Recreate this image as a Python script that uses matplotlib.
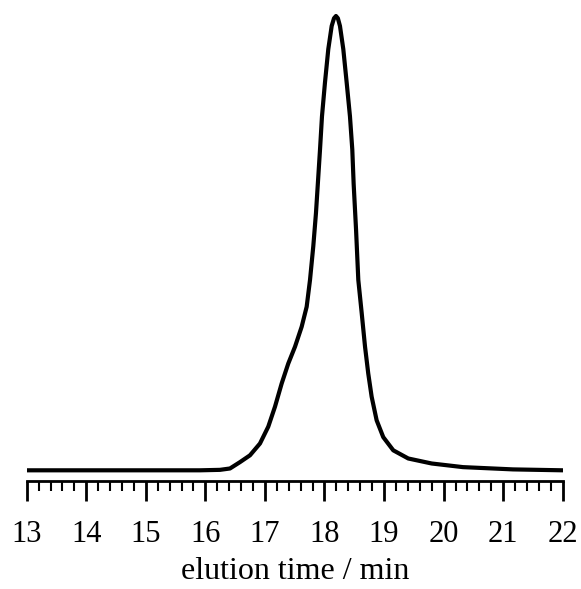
import matplotlib
matplotlib.use("Agg")
import matplotlib.pyplot as plt
from matplotlib.ticker import MultipleLocator

plt.rcParams['font.family'] = ['Liberation Serif', 'DejaVu Serif']

# elution time (min) and normalized detector signal
time_min = [13.0, 14.5, 15.5, 15.91, 16.245, 16.413, 16.581, 16.749, 16.917,
            17.056, 17.169, 17.281, 17.392, 17.505, 17.617, 17.701, 17.757,
            17.812, 17.857, 17.893, 17.925, 17.958, 18.008, 18.064, 18.121,
            18.160, 18.193, 18.225, 18.260, 18.316, 18.373, 18.428, 18.467,
            18.490, 18.530, 18.568, 18.625, 18.681, 18.735, 18.792, 18.876,
            18.987, 19.155, 19.407, 19.800, 20.325, 21.165, 22.0]
signal = [0.0, 0.0, 0.0, 0.0, 0.001, 0.004, 0.018, 0.033, 0.059,
          0.096, 0.140, 0.191, 0.235, 0.272, 0.316, 0.360, 0.419,
          0.493, 0.566, 0.640, 0.706, 0.779, 0.853, 0.927, 0.978,
          0.995, 1.0, 0.995, 0.978, 0.927, 0.853, 0.779, 0.706,
          0.630, 0.530, 0.419, 0.346, 0.272, 0.213, 0.162, 0.110,
          0.073, 0.044, 0.026, 0.015, 0.007, 0.002, 0.0]

major_ticks = [13, 14, 15, 16, 17, 18, 19, 20, 21, 22]
x_label = "elution time / min"

W, H = 581, 589
fig = plt.figure(figsize=(W / 100, H / 100), dpi=100)
left, right = 26.7, 562.7
bottom_px, top_px = 481.3, 10
ax = fig.add_axes([left / W, 1 - bottom_px / H, (right - left) / W, (bottom_px - top_px) / H])

ax.plot(time_min, signal, color='black', lw=3.0, solid_joinstyle='round', solid_capstyle='round')

ax.set_xlim(13, 22)
ax.set_ylim(-0.0242, 1.0132)

for s in ['top', 'right', 'left']:
    ax.spines[s].set_visible(False)
ax.spines['bottom'].set_linewidth(2.0)
ax.set_yticks([])
ax.set_xticks(major_ticks)
ax.set_xticklabels([str(t) for t in major_ticks])
ax.xaxis.set_minor_locator(MultipleLocator(0.2))
ax.tick_params(axis='x', which='major', direction='out', length=14.4, width=2.0,
               labelsize=22, pad=13.5)
ax.tick_params(axis='x', which='minor', direction='out', length=7.2, width=1.5)
ax.set_xlabel(x_label, fontsize=23, labelpad=6.0)

fig.savefig("out.png", dpi=100)
